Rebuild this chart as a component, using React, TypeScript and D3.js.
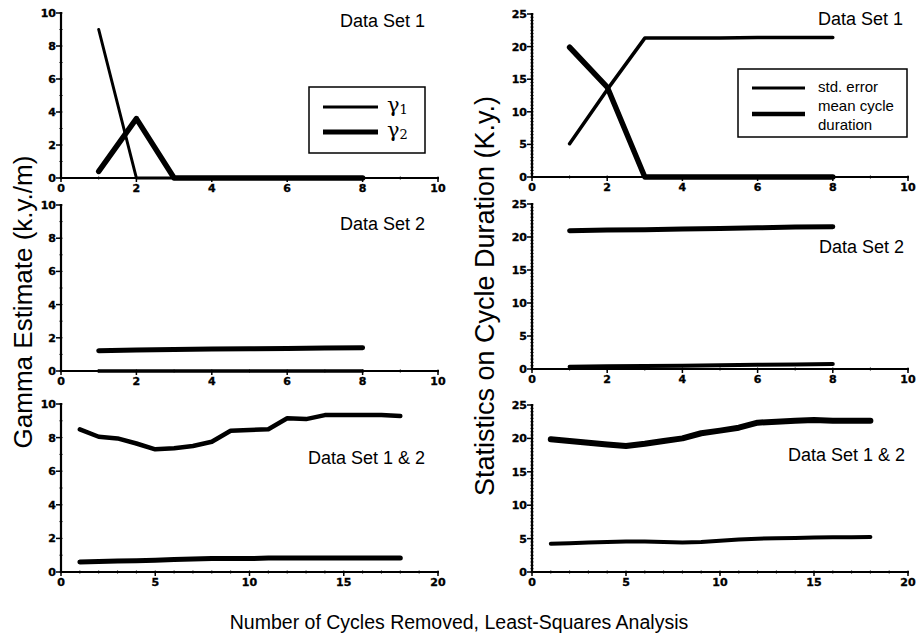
import React from "react";
import * as d3 from "d3";

// Number of cycles removed (x values)
const cyclesShort = [1, 2, 3, 4, 5, 6, 7, 8];
const cyclesLong = [1, 2, 3, 4, 5, 6, 7, 8, 9, 10, 11, 12, 13, 14, 15, 16, 17, 18];

// Gamma estimates (k.y./m)
const gamma1Set1 = [9.0, 0, 0, 0, 0, 0, 0, 0];
const gamma2Set1 = [0.4, 3.6, 0, 0, 0, 0, 0, 0];
const gamma1Set2 = [0, 0, 0, 0, 0, 0, 0, 0];
const gamma2Set2 = [1.22, 1.26, 1.3, 1.32, 1.34, 1.36, 1.38, 1.4];
const gammaHighSet12 = [8.49, 8.05, 7.95, 7.65, 7.3, 7.36, 7.5, 7.75, 8.41, 8.45, 8.5, 9.15, 9.1, 9.34, 9.34, 9.34, 9.34, 9.28];
const gammaLowSet12 = [0.6, 0.62, 0.65, 0.67, 0.7, 0.74, 0.78, 0.8, 0.8, 0.8, 0.83, 0.83, 0.83, 0.83, 0.83, 0.83, 0.84, 0.84];

// Cycle duration statistics (K.y.)
const stdErrorSet1 = [5.1, 13.4, 21.3, 21.3, 21.3, 21.4, 21.4, 21.4];
const meanDurationSet1 = [19.9, 13.8, 0, 0, 0, 0, 0, 0];
const durationHighSet2 = [20.95, 21.05, 21.1, 21.2, 21.3, 21.4, 21.5, 21.55];
const durationLowSet2 = [0.35, 0.4, 0.45, 0.5, 0.55, 0.65, 0.7, 0.75];
const durationHighSet12 = [19.87, 19.6, 19.35, 19.1, 18.87, 19.2, 19.6, 20.0, 20.77, 21.16, 21.6, 22.36, 22.5, 22.66, 22.76, 22.66, 22.66, 22.66];
const durationLowSet12 = [4.23, 4.3, 4.4, 4.5, 4.58, 4.55, 4.5, 4.43, 4.48, 4.68, 4.85, 4.98, 5.05, 5.1, 5.18, 5.2, 5.2, 5.23];

// Axis ticks
const xTicksShort = [0, 2, 4, 6, 8, 10];
const xTicksLong = [0, 5, 10, 15, 20];
const yTicksGamma = [0, 2, 4, 6, 8, 10];
const yTicksDuration = [0, 5, 10, 15, 20, 25];

const panelTitles = ["Data Set 1", "Data Set 2", "Data Set 1 & 2"];
const yTitleLeft = "Gamma Estimate (k.y./m)";
const yTitleRight = "Statistics on Cycle Duration (K.y.)";
const xTitle = "Number of Cycles Removed, Least-Squares Analysis";
const durationLegend = ["std. error", "mean cycle", "duration"];

const SANS = "Arial, 'Liberation Sans', Helvetica, sans-serif";
const TICK_FONT = "'DejaVu Sans', sans-serif";

type Series = { xs: number[]; ys: number[]; width: number };
type PanelDef = {
  left: number;
  right: number;
  top: number;
  bottom: number;
  xMax: number;
  yMax: number;
  xTicks: number[];
  yTicks: number[];
  xMinorStep: number;
  yMinorStep: number;
  series: Series[];
  title: string;
  titleX: number;
  titleY: number;
};

function Panel({ p }: { p: PanelDef }) {
  const x = d3.scaleLinear().domain([0, p.xMax]).range([p.left, p.right]);
  const y = d3.scaleLinear().domain([0, p.yMax]).range([p.bottom, p.top]);
  const line = d3
    .line<[number, number]>()
    .x((d) => x(d[0]))
    .y((d) => y(d[1]));
  const xMinor = d3.range(0, p.xMax + 1e-9, p.xMinorStep);
  const yMinor = d3.range(0, p.yMax + 1e-9, p.yMinorStep);
  const tickText = {
    fontFamily: TICK_FONT,
    fontWeight: "bold" as const,
    fontSize: 11,
    stroke: "#000",
    strokeWidth: 0.35,
  };
  return (
    <g>
      {/* axes */}
      <line x1={x(0)} x2={x(p.xMax) + 1} y1={y(0)} y2={y(0)} stroke="#000" strokeWidth={2} />
      <line x1={x(0)} x2={x(0)} y1={y(0) + 1} y2={y(p.yMax) - 1} stroke="#000" strokeWidth={2.2} />
      {xMinor.map((v, i) => (
        <line key={"xm" + i} x1={x(v)} x2={x(v)} y1={y(0) - 1.5} y2={y(0) + 1.5} stroke="#000" strokeWidth={1} />
      ))}
      {yMinor.map((v, i) => (
        <line key={"ym" + i} x1={x(0) - 1.5} x2={x(0) + 1.5} y1={y(v)} y2={y(v)} stroke="#000" strokeWidth={1} />
      ))}
      {p.xTicks.map((v) => (
        <g key={"xt" + v}>
          <line x1={x(v)} x2={x(v)} y1={y(0)} y2={y(0) + 4} stroke="#000" strokeWidth={1.5} />
          <text x={x(v)} y={y(0) + 14} textAnchor="middle" {...tickText}>
            {v}
          </text>
        </g>
      ))}
      {p.yTicks.map((v) => (
        <g key={"yt" + v}>
          <line x1={x(0) - 5} x2={x(0)} y1={y(v)} y2={y(v)} stroke="#000" strokeWidth={1.5} />
          <text x={x(0) - 5} y={y(v) + 4} textAnchor="end" {...tickText}>
            {v}
          </text>
        </g>
      ))}
      {p.series.map((s, i) => (
        <path
          key={"s" + i}
          d={line(s.xs.map((xv, j) => [xv, s.ys[j]] as [number, number])) || ""}
          fill="none"
          stroke="#000"
          strokeWidth={s.width}
          strokeLinecap="round"
          strokeLinejoin="round"
        />
      ))}
      <text x={p.titleX} y={p.titleY} fontFamily={SANS} fontSize={18}>
        {p.title}
      </text>
    </g>
  );
}

export default function App() {
  const L = { left: 61, right: 438 };
  const R = { left: 532, right: 908 };
  const panels: PanelDef[] = [
    {
      ...L, top: 13, bottom: 178, xMax: 10, yMax: 10, xTicks: xTicksShort, yTicks: yTicksGamma,
      xMinorStep: 1, yMinorStep: 1,
      series: [
        { xs: cyclesShort, ys: gamma1Set1, width: 3 },
        { xs: cyclesShort, ys: gamma2Set1, width: 5.5 },
      ],
      title: panelTitles[0], titleX: 340, titleY: 27,
    },
    {
      ...L, top: 205, bottom: 371, xMax: 10, yMax: 10, xTicks: xTicksShort, yTicks: yTicksGamma,
      xMinorStep: 1, yMinorStep: 1,
      series: [
        { xs: cyclesShort, ys: gamma1Set2, width: 3.5 },
        { xs: cyclesShort, ys: gamma2Set2, width: 5 },
      ],
      title: panelTitles[1], titleX: 340, titleY: 230,
    },
    {
      ...L, top: 404, bottom: 572, xMax: 20, yMax: 10, xTicks: xTicksLong, yTicks: yTicksGamma,
      xMinorStep: 1, yMinorStep: 1,
      series: [
        { xs: cyclesLong, ys: gammaHighSet12, width: 4.5 },
        { xs: cyclesLong, ys: gammaLowSet12, width: 5 },
      ],
      title: panelTitles[2], titleX: 308, titleY: 464,
    },
    {
      ...R, top: 14, bottom: 177, xMax: 10, yMax: 25, xTicks: xTicksShort, yTicks: yTicksDuration,
      xMinorStep: 1, yMinorStep: 0.5,
      series: [
        { xs: cyclesShort, ys: stdErrorSet1, width: 3.5 },
        { xs: cyclesShort, ys: meanDurationSet1, width: 5.5 },
      ],
      title: panelTitles[0], titleX: 818, titleY: 25,
    },
    {
      ...R, top: 204, bottom: 369, xMax: 10, yMax: 25, xTicks: xTicksShort, yTicks: yTicksDuration,
      xMinorStep: 1, yMinorStep: 0.5,
      series: [
        { xs: cyclesShort, ys: durationHighSet2, width: 5 },
        { xs: cyclesShort, ys: durationLowSet2, width: 4 },
      ],
      title: panelTitles[1], titleX: 819, titleY: 253,
    },
    {
      ...R, top: 405, bottom: 572, xMax: 20, yMax: 25, xTicks: xTicksLong, yTicks: yTicksDuration,
      xMinorStep: 1, yMinorStep: 0.5,
      series: [
        { xs: cyclesLong, ys: durationHighSet12, width: 6 },
        { xs: cyclesLong, ys: durationLowSet12, width: 4 },
      ],
      title: panelTitles[2], titleX: 788, titleY: 461,
    },
  ];

  return (
    <svg
      width={917}
      height={640}
      style={{ position: "absolute", left: 0, top: 0, background: "#fff" }}
    >
      <rect x={0} y={0} width={917} height={640} fill="#fff" />
      {panels.map((p, i) => (
        <Panel key={i} p={p} />
      ))}

      {/* gamma legend */}
      <rect x={309} y={87} width={116} height={66} fill="#fff" stroke="#000" strokeWidth={1.5} />
      <line x1={323} x2={378} y1={107} y2={107} stroke="#000" strokeWidth={3} />
      <line x1={323} x2={378} y1={132} y2={132} stroke="#000" strokeWidth={5} />
      <text x={387} y={112} fontFamily="'DejaVu Serif', serif" fontSize={21}>
        γ<tspan fontSize={13} dy={2}>1</tspan>
      </text>
      <text x={387} y={137} fontFamily="'DejaVu Serif', serif" fontSize={21}>
        γ<tspan fontSize={13} dy={2}>2</tspan>
      </text>

      {/* duration legend */}
      <rect x={738} y={69} width={169} height={68} fill="#fff" stroke="#000" strokeWidth={1.5} />
      <line x1={752} x2={805} y1={88} y2={88} stroke="#000" strokeWidth={3} />
      <line x1={752} x2={805} y1={114} y2={114} stroke="#000" strokeWidth={4.5} />
      <text x={818} y={92} fontFamily={SANS} fontSize={15}>{durationLegend[0]}</text>
      <text x={818} y={111} fontFamily={SANS} fontSize={15}>{durationLegend[1]}</text>
      <text x={818} y={130} fontFamily={SANS} fontSize={15}>{durationLegend[2]}</text>

      {/* axis titles */}
      <text
        transform="translate(32,302) rotate(-90)"
        textAnchor="middle"
        fontFamily={SANS}
        fontSize={26}
      >
        {yTitleLeft}
      </text>
      <text
        transform="translate(494,296) rotate(-90)"
        textAnchor="middle"
        fontFamily={SANS}
        fontSize={27}
      >
        {yTitleRight}
      </text>
      <text x={459} y={629} textAnchor="middle" fontFamily={SANS} fontSize={19.5}>
        {xTitle}
      </text>
    </svg>
  );
}
